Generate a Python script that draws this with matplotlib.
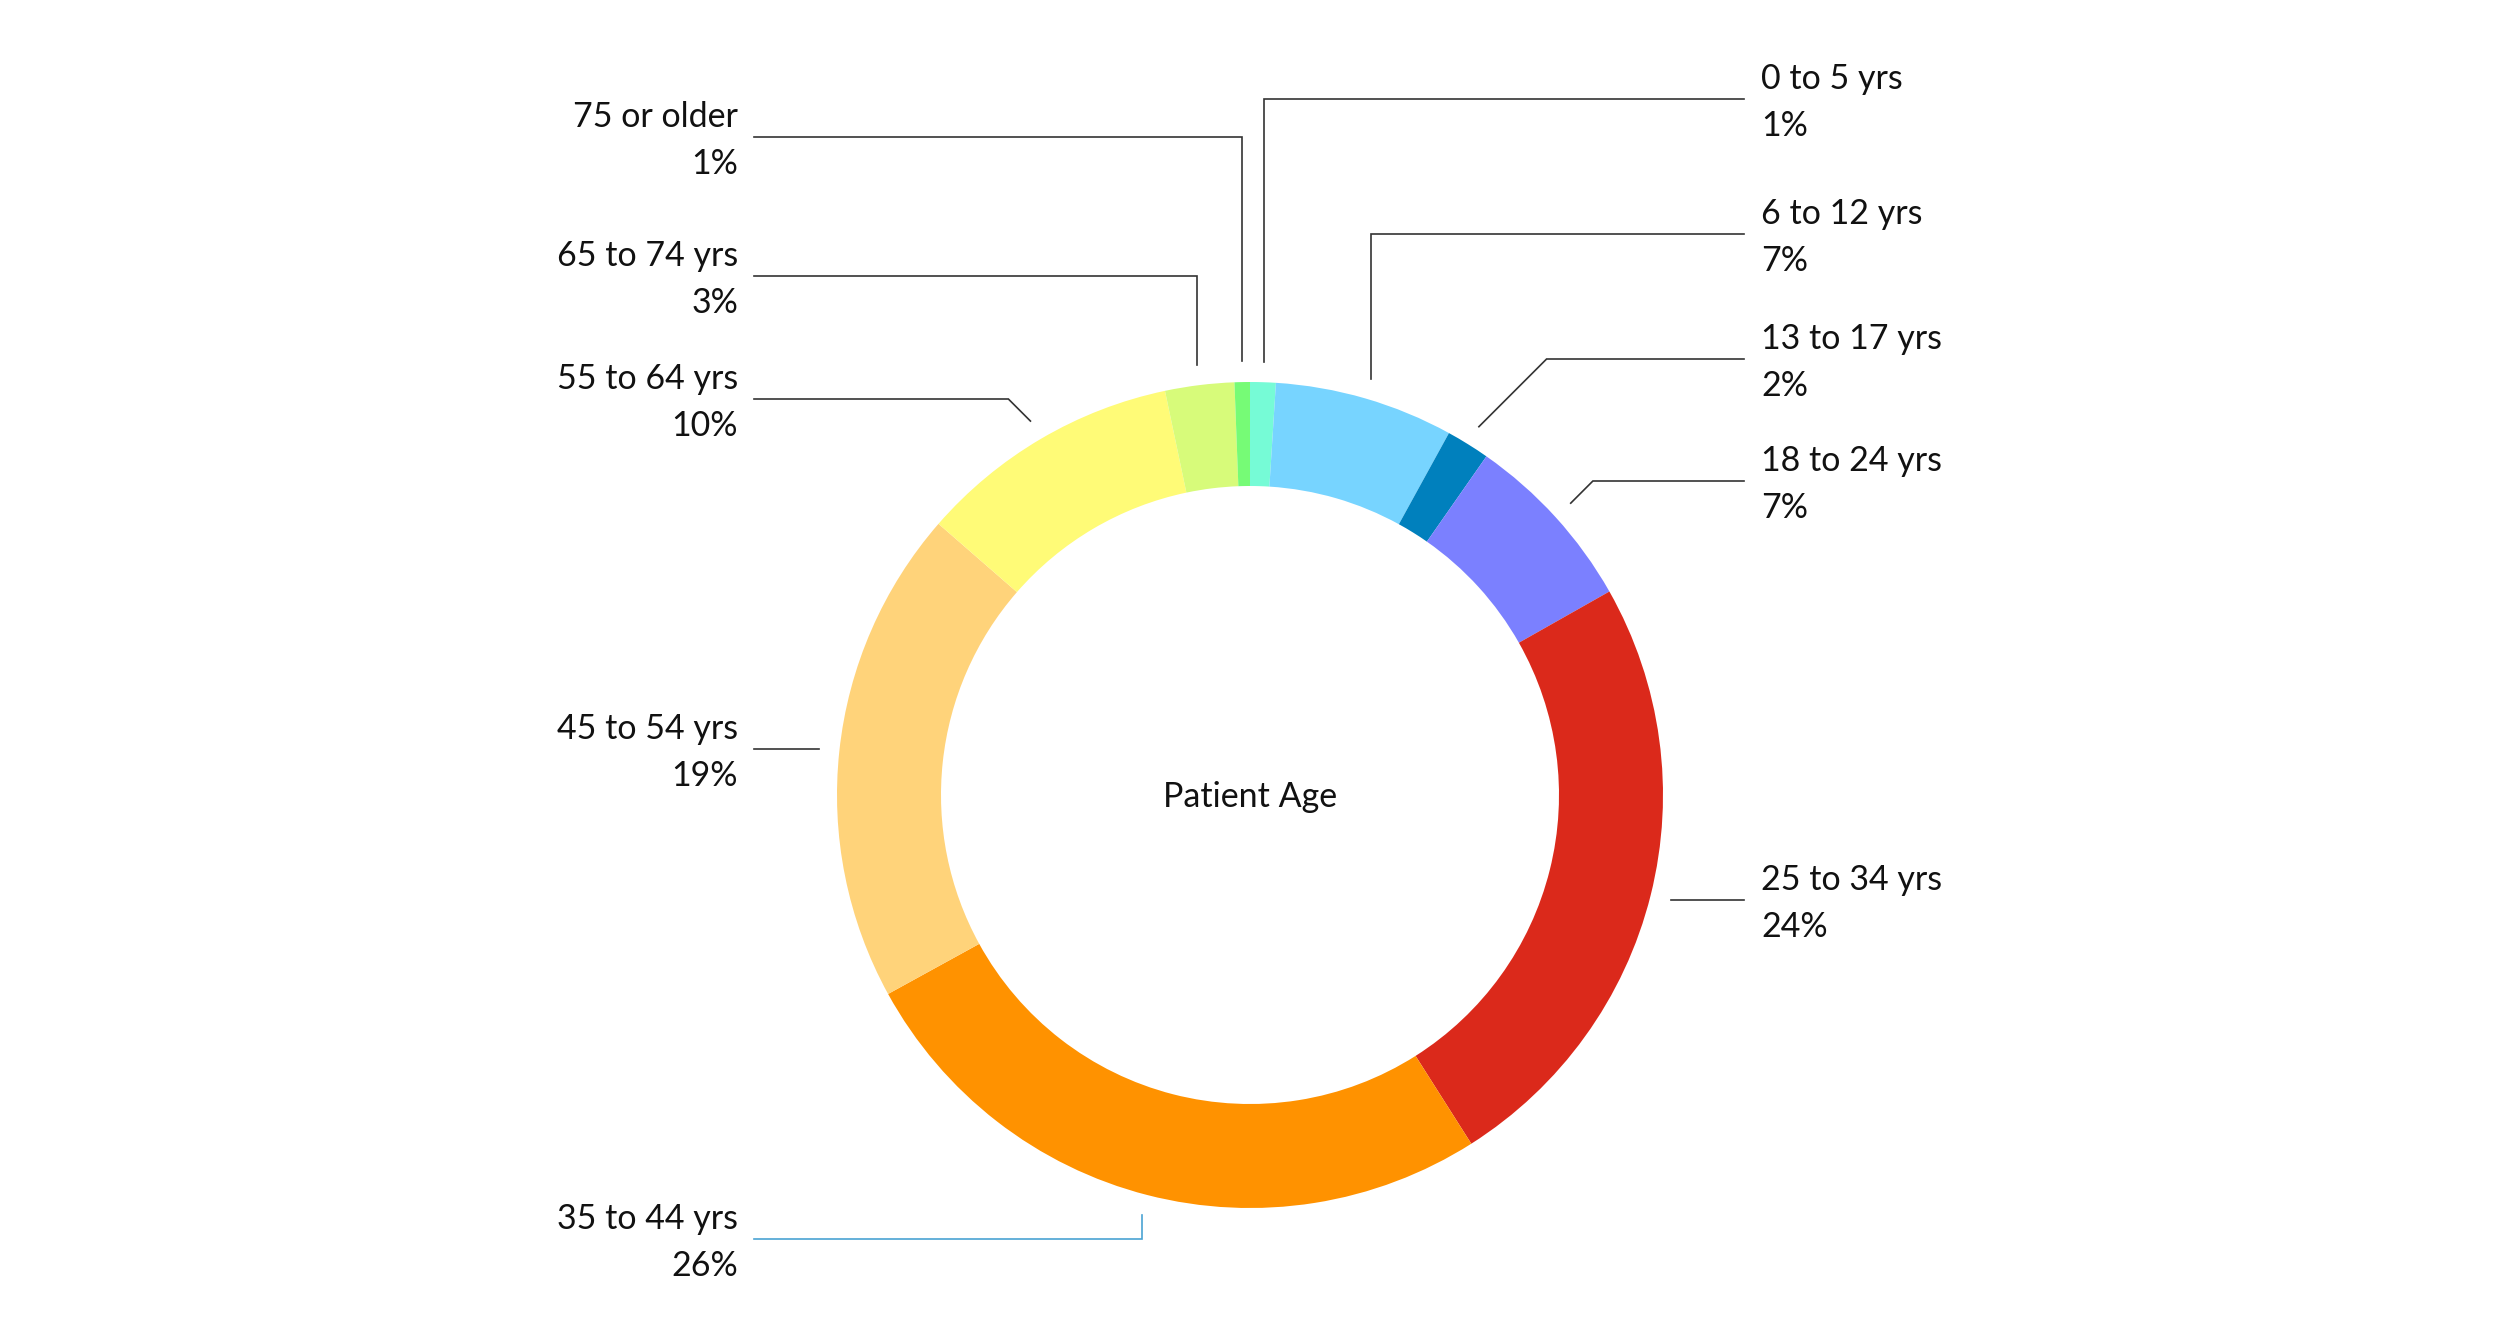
import numpy as np
import matplotlib
matplotlib.use("Agg")
import matplotlib.pyplot as plt

categories = ["0 to 5 yrs", "6 to 12 yrs", "13 to 17 yrs", "18 to 24 yrs", "25 to 34 yrs",
              "35 to 44 yrs", "45 to 54 yrs", "55 to 64 yrs", "65 to 74 yrs", "75 or older"]
values = [1.0, 7.0, 1.7, 7.1, 24.2, 26.0, 19.4, 10.3, 2.7, 0.6]
pct_labels = ["1%", "7%", "2%", "7%", "24%", "26%", "19%", "10%", "3%", "1%"]
colors = ["#76fbd6", "#77d4ff", "#0080bd", "#7b80ff", "#db291b",
          "#ff9200", "#ffd37a", "#fffb77", "#d7fb7a", "#76fb76"]
center_title = "Patient Age"

# layout (pixel coordinates, y measured from top)
W, H = 2500, 1323
cx, cy_top = 1250, 795
radius = 413
ring = 104
label_line_y = [99, 234, 359, 481, None, 1239, None, 399, 276, 137]
elbow = ["v", "v", "d", "d", "h", "v", "h", "d", "v", "v"]
line_colors = ["#333333"] * 10
line_colors[5] = "#4aa3d3"

plt.rcParams['font.family'] = ['Lato', 'DejaVu Sans']
fig = plt.figure(figsize=(W / 100, H / 100), dpi=100)
ax = fig.add_axes([0, 0, 1, 1])

cy = H - cy_top
ax.pie(values, colors=colors, startangle=90, counterclock=False,
       center=(cx, cy), radius=radius,
       wedgeprops=dict(width=ring, linewidth=0), frame=True)
ax.set_xlim(0, W)
ax.set_ylim(0, H)
ax.set_aspect('equal')
ax.axis('off')

ax.text(cx, cy - 2, center_title, ha='center', va='center', fontsize=24.5, color='#111111')

total = sum(values)
cum = np.cumsum([0] + values)
R = radius * 1.05
x_right_end, x_left_end = 1744, 754
tx_right, tx_left = 1761, 738
for i, (cat, v) in enumerate(zip(categories, values)):
    mid = (cum[i] + v / 2) / total * 2 * np.pi
    px = cx + R * np.sin(mid)
    py = cy + R * np.cos(mid)
    right = np.sin(mid) >= 0
    if label_line_y[i] is None:
        ly = py
    else:
        ly = H - label_line_y[i]
    if elbow[i] == "v":
        ex, ey = px, ly
    elif elbow[i] == "d":
        d = abs(py - ly)
        ex, ey = (px + d if right else px - d), ly
    else:
        ex, ey = px, py
    xend = x_right_end if right else x_left_end
    ax.plot([px, ex, xend], [py, ey, ly], color=line_colors[i], lw=1.2,
            solid_joinstyle='miter')
    tx = tx_right if right else tx_left
    ha = 'left' if right else 'right'
    ax.text(tx, ly + 20, cat, ha=ha, va='center', fontsize=24.5, color='#111111')
    ax.text(tx, ly - 27, pct_labels[i], ha=ha, va='center', fontsize=24.5, color='#111111')

fig.savefig("out.png", dpi=100, facecolor='white')
